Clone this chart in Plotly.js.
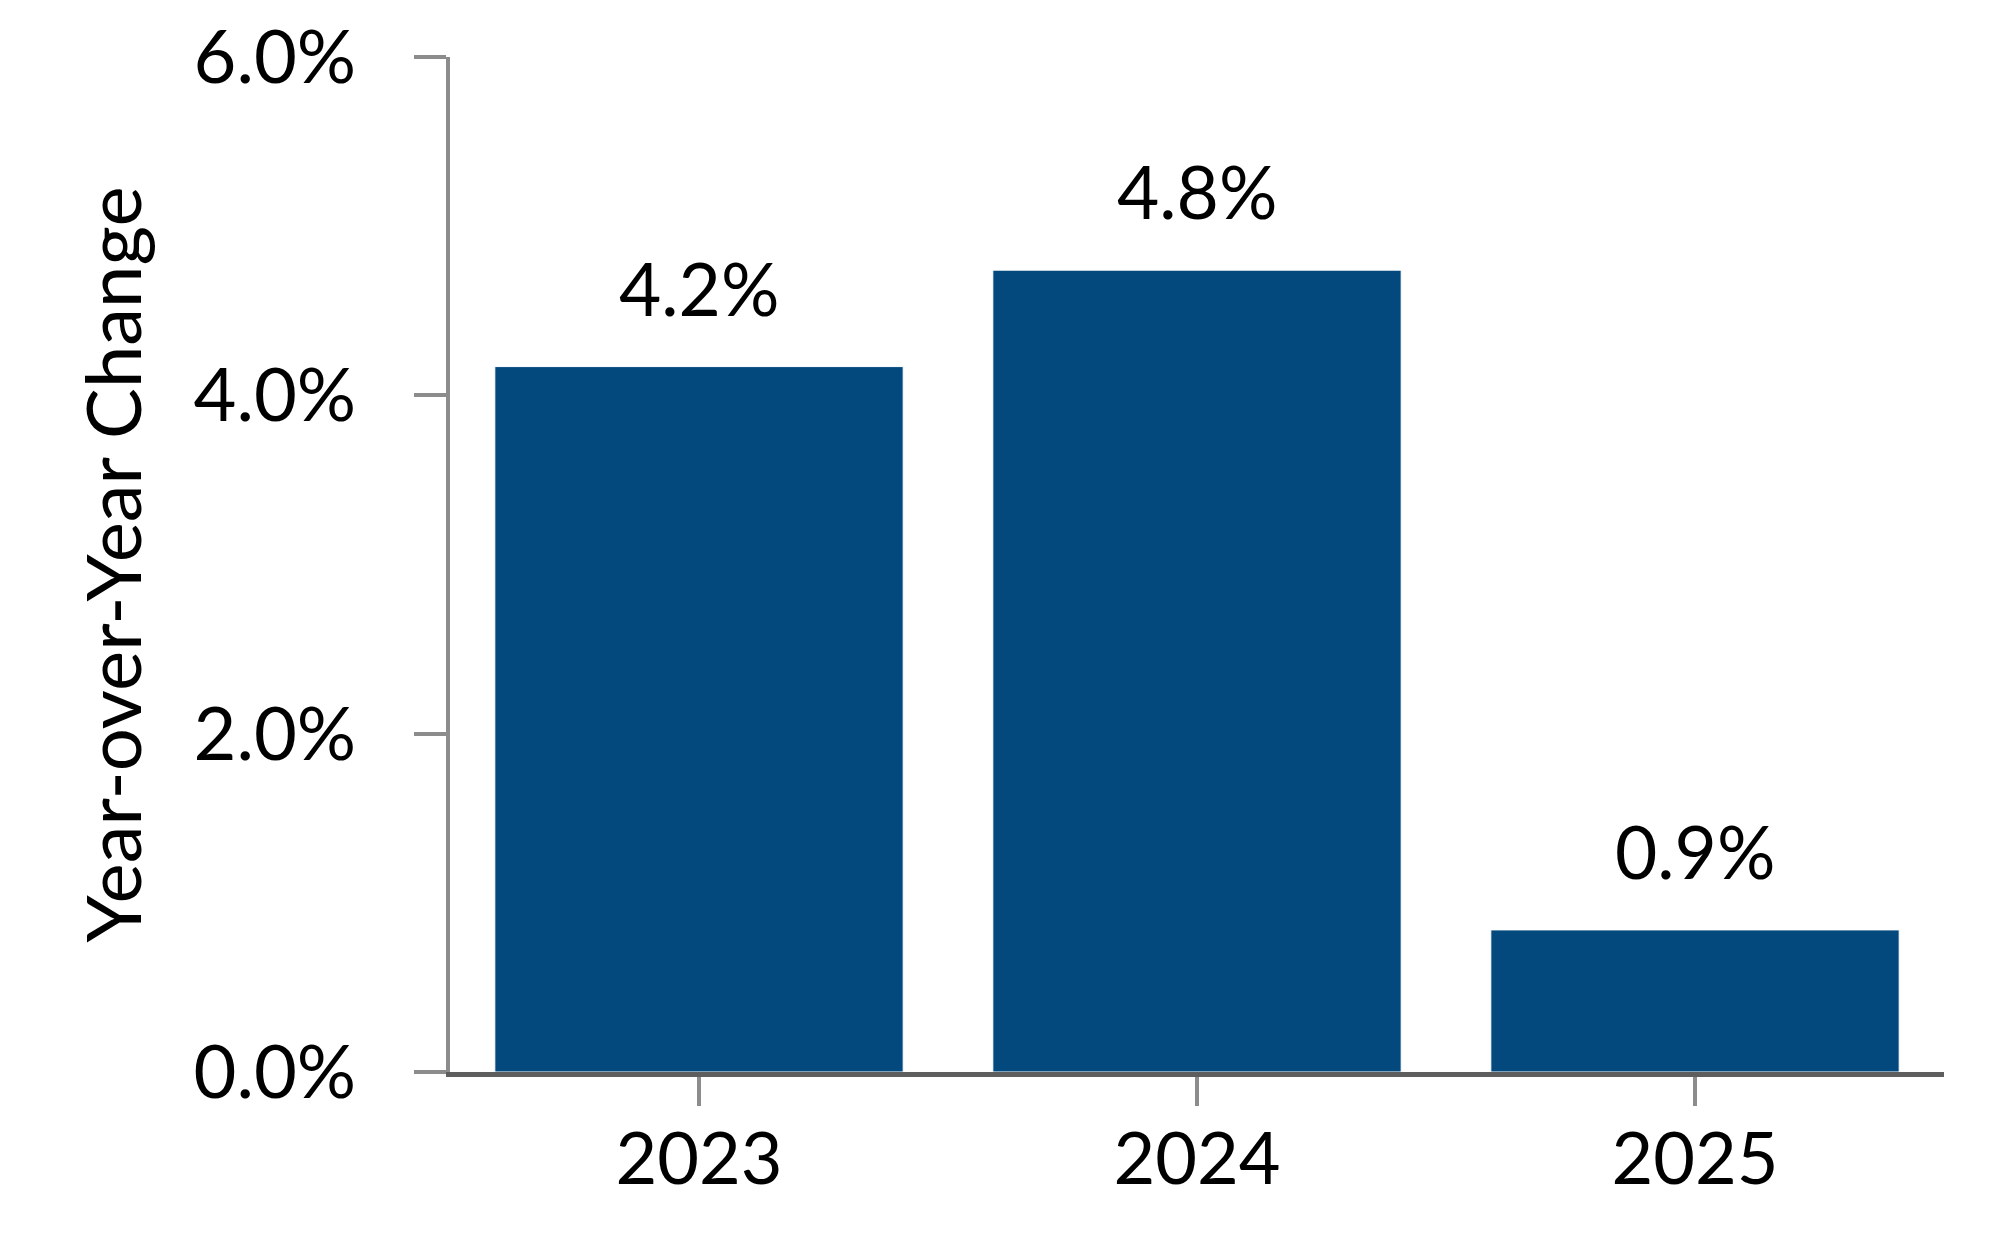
<!DOCTYPE html>
<html>
<head>
<meta charset="utf-8">
<script src="https://cdn.plot.ly/plotly-3.0.1.min.js"></script>
<style>
  html, body { margin: 0; padding: 0; background: #ffffff; }
  #chart { width: 2004px; height: 1260px; }
</style>
</head>
<body>
<div id="chart"></div>
<script>
// year-over-year change, bar heights
let years = ['2023', '2024', '2025'];
let changes = [4.17, 4.74, 0.84];
let changeLabels = ['4.2%', '4.8%', '0.9%'];

let yTickVals = [0, 2, 4, 6];
let yTickText = ['0.0%', '2.0%', '4.0%', '6.0%'];

let fontFamily = 'Lato, "Liberation Sans", sans-serif';

let traceBars = {
    x: years,
    y: changes,
    type: 'bar',
    marker: {color: '#03497d', line: {color: '#ffffff', width: 1}},
    hoverinfo: 'none'
};

// value labels sit above each bar (x is the category index)
let labels = years.map((yr, i) => ({
    x: i,
    y: changes[i],
    xref: 'x',
    yref: 'y',
    text: changeLabels[i],
    showarrow: false,
    yanchor: 'bottom',
    yshift: 33,
    font: {family: fontFamily, size: 73, color: '#000000'}
}));

let layout = {
    width: 2004,
    height: 1260,
    margin: {l: 450, r: 60, t: 57, b: 188},
    paper_bgcolor: '#ffffff',
    plot_bgcolor: '#ffffff',
    showlegend: false,
    bargap: 0.18,
    font: {family: fontFamily, size: 72, color: '#000000'},
    xaxis: {
        type: 'category',
        range: [-0.5, 2.5],
        autorange: false,
        showline: true,
        linecolor: '#5e5e5e',
        linewidth: 5,
        ticks: 'outside',
        ticklen: 29,
        tickwidth: 4,
        tickcolor: '#8c8c8c',
        ticklabelstandoff: -8,
        showgrid: false,
        zeroline: false,
        tickfont: {family: fontFamily, size: 72, color: '#000000'}
    },
    yaxis: {
        range: [0, 6],
        autorange: false,
        tickvals: yTickVals,
        ticktext: yTickText,
        showline: true,
        linecolor: '#8c8c8c',
        linewidth: 4,
        ticks: 'outside',
        ticklen: 32,
        tickwidth: 4,
        tickcolor: '#8c8c8c',
        ticklabelstandoff: 43,
        showgrid: false,
        zeroline: false,
        tickfont: {family: fontFamily, size: 74, color: '#000000'},
        title: {text: 'Year-over-Year Change', standoff: 28,
                font: {family: fontFamily, size: 76, color: '#000000'}}
    },
    annotations: labels
};

Plotly.newPlot(document.getElementById('chart'), [traceBars], layout, {staticPlot: true});
</script>
</body>
</html>
